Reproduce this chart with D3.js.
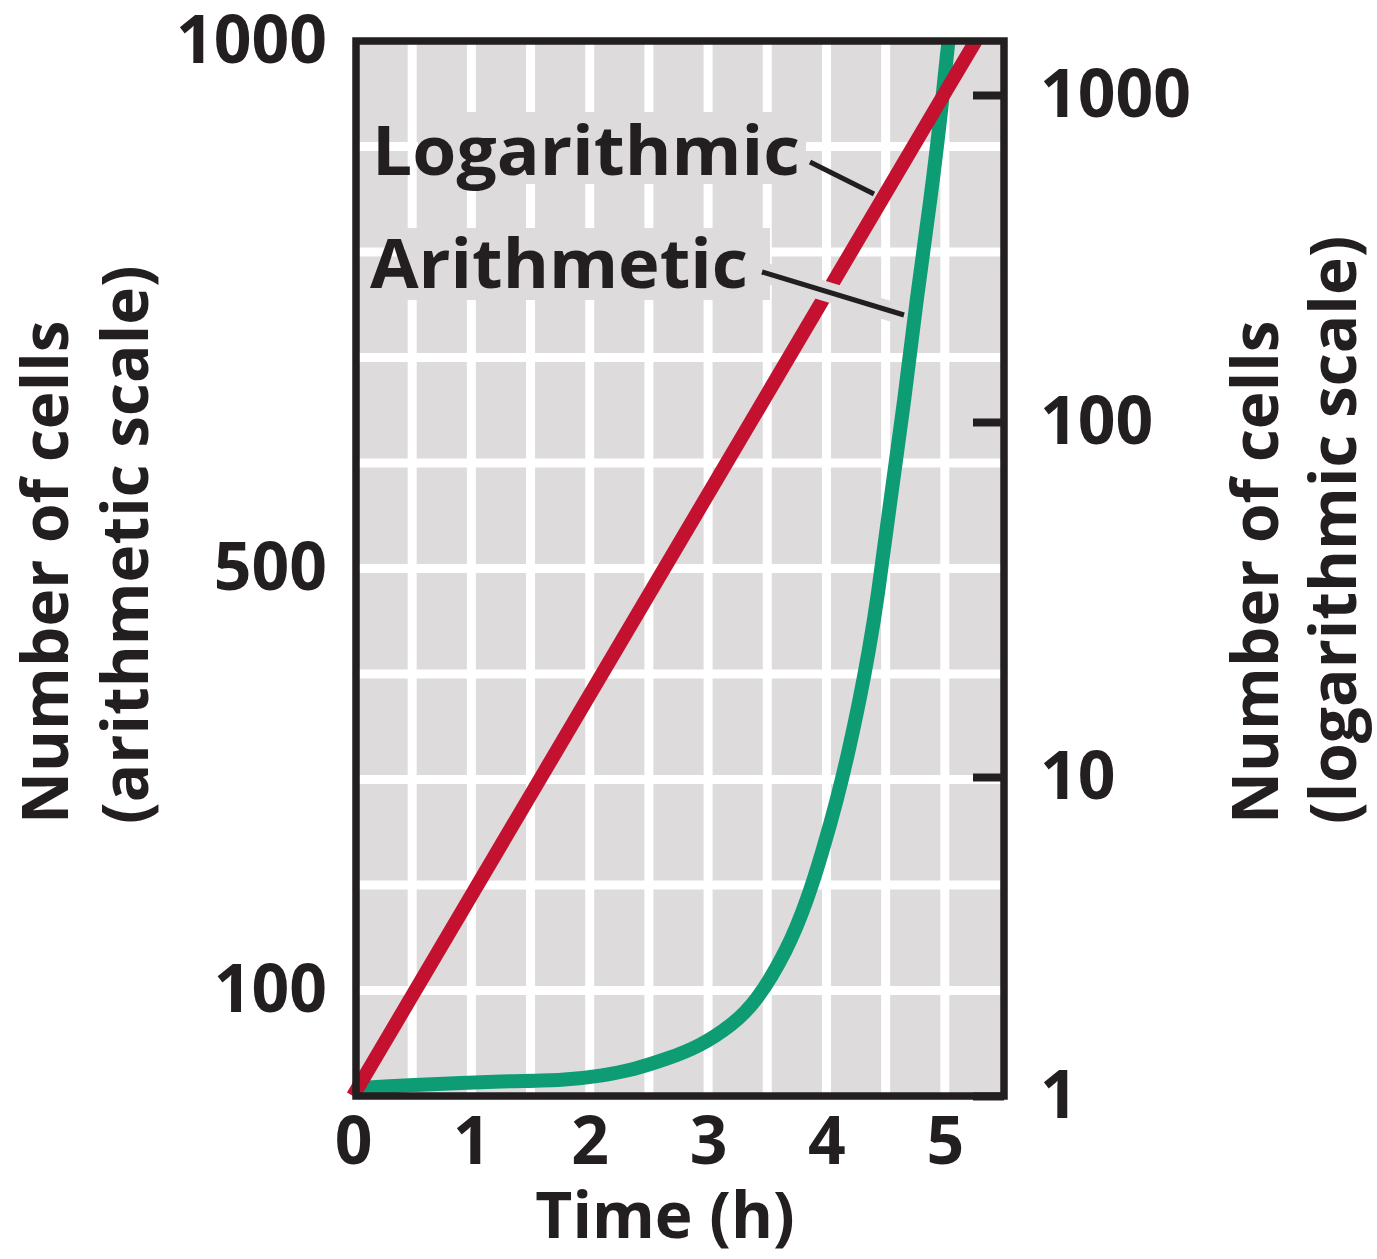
<!DOCTYPE html>
<html>
<head>
<meta charset="utf-8">
<script src="https://cdn.jsdelivr.net/npm/d3@7"></script>
<style>
body { margin: 0; background: #fff; }
text { font-family: "Open Sans", sans-serif; font-weight: 700; fill: #231f20; }
</style>
</head>
<body>
<div id="chart"></div>
<script>
// axis ticks
const hours = [0, 1, 2, 3, 4, 5];
const linTicks = [100, 500, 1000];
const logTicks = [1, 10, 100, 1000];
const gridHours = [0.5, 1, 1.5, 2, 2.5, 3, 3.5, 4, 4.5, 5];
const gridCells = [100, 200, 300, 400, 500, 600, 700, 800, 900];

// red line, read against the logarithmic (right) axis
const logTime = [0, 1.59, 3.36, 4.99, 5.26];
const logCells = [1, 10, 100, 1000, 1460];

// green curve, read against the arithmetic (left) axis
const arithTime = [0, 0.40, 1.24, 1.81, 2.09, 2.37, 2.65, 2.93, 3.21, 3.40, 3.67, 3.84, 3.97, 4.09, 4.19, 4.28, 4.36, 4.43, 4.54, 4.66, 4.76, 4.88, 4.98, 5.03];
const arithCells = [7, 10, 14, 15, 19, 25, 35, 47, 68, 88, 138, 186, 233, 281, 328, 375, 423, 470, 565, 660, 755, 849, 944, 1000];

const width = 1377, height = 1259;
const ink = "#231f20", paper = "#dddbdc";

const svg = d3.select("#chart").append("svg")
    .attr("width", width)
    .attr("height", height);

const x = d3.scaleLinear().domain([0, 5.5]).range([353, 1004]);
const yLin = d3.scaleLinear().domain([0, 1000]).range([1096, 41]);
// hand drawn log axis: decades are not quite equal, so piecewise
const yLog = d3.scaleLog().domain([1, 10, 100, 1000]).range([1096, 777, 422, 95]);

const pLeft = 356, pRight = x.range()[1], pTop = yLin(1000), pBottom = yLin(0);

svg.append("clipPath").attr("id", "plot")
    .append("rect")
    .attr("x", 330).attr("y", pTop)
    .attr("width", pRight - 330).attr("height", pBottom - pTop + 10);

svg.append("rect")
    .attr("x", pLeft).attr("y", pTop)
    .attr("width", pRight - pLeft).attr("height", pBottom - pTop)
    .attr("fill", paper);

// white grid
svg.append("g").selectAll("line").data(gridHours).join("line")
    .attr("x1", d => x(d)).attr("x2", d => x(d))
    .attr("y1", pTop).attr("y2", pBottom)
    .attr("stroke", "#fff").attr("stroke-width", 9);
svg.append("g").selectAll("line").data(gridCells).join("line")
    .attr("x1", pLeft).attr("x2", pRight)
    .attr("y1", d => yLin(d)).attr("y2", d => yLin(d))
    .attr("stroke", "#fff").attr("stroke-width", 9);

// grey knock-outs behind the two labels
svg.append("rect").attr("x", 418).attr("y", 112).attr("width", 388).attr("height", 72).attr("fill", paper);
svg.append("rect").attr("x", 405).attr("y", 228).attr("width", 365).attr("height", 72).attr("fill", paper);

// leader for "Logarithmic" sits under the red line
svg.append("line")
    .attr("x1", 810).attr("y1", 162).attr("x2", 874).attr("y2", 194)
    .attr("stroke", ink).attr("stroke-width", 5);

const logData = logTime.map((t, i) => ({ t, n: logCells[i] }));
const arithData = arithTime.map((t, i) => ({ t, n: arithCells[i] }));

const plot = svg.append("g").attr("clip-path", "url(#plot)");

plot.append("path")
    .attr("d", d3.line().curve(d3.curveBasis)
        .x(d => x(d.t)).y(d => yLin(d.n))(arithData))
    .attr("fill", "none")
    .attr("stroke", "#0e9c75")
    .attr("stroke-width", 14);

plot.append("path")
    .attr("d", d3.line().x(d => x(d.t)).y(d => yLog(d.n))(logData))
    .attr("fill", "none")
    .attr("stroke", "#c3112f")
    .attr("stroke-width", 14);

// leader for "Arithmetic" cuts through the red line with a grey halo
svg.append("line")
    .attr("x1", 766).attr("y1", 273).attr("x2", 893).attr("y2", 312)
    .attr("stroke", paper).attr("stroke-width", 20);
svg.append("line")
    .attr("x1", 762).attr("y1", 272).attr("x2", 904).attr("y2", 315)
    .attr("stroke", ink).attr("stroke-width", 5);

svg.append("text").attr("x", 372).attr("y", 175).attr("font-size", 68)
    .attr("textLength", 428).attr("lengthAdjust", "spacingAndGlyphs")
    .text("Logarithmic");
svg.append("text").attr("x", 370).attr("y", 288).attr("font-size", 68)
    .attr("textLength", 378).attr("lengthAdjust", "spacingAndGlyphs")
    .text("Arithmetic");

// frame
svg.append("rect")
    .attr("x", pLeft).attr("y", pTop)
    .attr("width", pRight - pLeft).attr("height", pBottom - pTop)
    .attr("fill", "none").attr("stroke", ink).attr("stroke-width", 7.5);

// axes
const styleAxis = g => g
    .attr("font-family", null).attr("font-size", 66)
    .call(g => g.select(".domain").remove())
    .call(g => g.selectAll("text").attr("fill", ink));

svg.append("g")
    .attr("transform", `translate(${pLeft},0)`)
    .call(d3.axisLeft(yLin).tickValues(linTicks).tickFormat(d3.format("d"))
        .tickSize(0).tickPadding(29))
    .call(styleAxis);

svg.append("g")
    .attr("transform", `translate(0,${pBottom})`)
    .call(d3.axisBottom(x).tickValues(hours).tickFormat(d3.format("d"))
        .tickSize(0).tickPadding(21))
    .call(styleAxis);

svg.append("g")
    .attr("transform", `translate(${pRight},0)`)
    .call(d3.axisRight(yLog).tickValues(logTicks).tickFormat(d3.format("d"))
        .tickSizeInner(-31).tickSizeOuter(0).tickPadding(36))
    .call(styleAxis)
    .call(g => g.selectAll(".tick line").attr("stroke", ink).attr("stroke-width", 8));

// titles
svg.append("text")
    .attr("x", 665).attr("y", 1238)
    .attr("text-anchor", "middle").attr("font-size", 64)
    .text("Time (h)");

const vTitle = (bx, txt) => svg.append("text")
    .attr("transform", `translate(${bx},824) rotate(-90)`)
    .attr("font-size", 64)
    .text(txt);

vTitle(68, "Number of cells");
vTitle(148, "(arithmetic scale)");
vTitle(1278, "Number of cells");
vTitle(1356, "(logarithmic scale)");
</script>
</body>
</html>
